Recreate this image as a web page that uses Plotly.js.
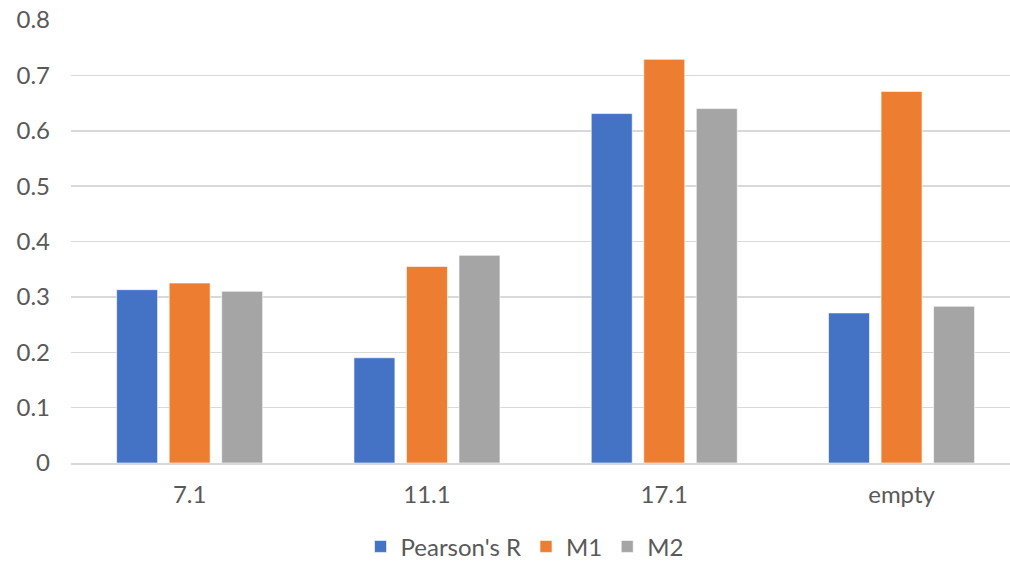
<!DOCTYPE html>
<html>
<head>
<meta charset="utf-8">
<script src="https://cdn.plot.ly/plotly-3.0.1.min.js"></script>
<style>html,body{margin:0;padding:0;background:#fff;}#chart{width:1010px;height:565px;}</style>
</head>
<body>
<div id="chart"></div>
<script>
const categories = ["7.1", "11.1", "17.1", "empty"];
const seriesNames = ["Pearson's R", "M1", "M2"];
const pearsonR = [0.313, 0.190, 0.631, 0.271];
const m1 = [0.325, 0.355, 0.729, 0.671];
const m2 = [0.310, 0.375, 0.640, 0.283];
const yTicks = [0, 0.1, 0.2, 0.3, 0.4, 0.5, 0.6, 0.7, 0.8];
const yTickText = ["0", "0.1", "0.2", "0.3", "0.4", "0.5", "0.6", "0.7", "0.8"];
const colors = ["#4472C4", "#ED7D31", "#A5A5A5"];

const values = [pearsonR, m1, m2];
const traces = values.map((v, i) => ({
  type: 'bar',
  name: seriesNames[i],
  x: categories,
  y: v,
  marker: {color: colors[i], line: {color: 'rgba(255,255,255,0.6)', width: 1}},
  hoverinfo: 'none'
}));

const font = {family: 'Lato, "Open Sans", sans-serif', size: 24, color: '#595959'};
const layout = {
  width: 1010, height: 565,
  margin: {l: 71, r: 0, t: 20, b: 102, autoexpand: false},
  paper_bgcolor: '#fff', plot_bgcolor: '#fff',
  font: font,
  barmode: 'group',
  bargap: 0.336,
  bargroupgap: 0.22,
  showlegend: true,
  legend: {orientation: 'h', x: 0.483, xanchor: 'center', y: -0.24, yanchor: 'bottom', font: font, traceorder: 'normal', bgcolor: 'rgba(0,0,0,0)'},
  xaxis: {type: 'category', range: [-0.5, 3.457], showgrid: false, zeroline: false, showline: true, linecolor: '#D9D9D9', linewidth: 1.5, ticks: '', tickfont: font, ticklabelstandoff: 10, automargin: false},
  yaxis: {range: [0, 0.8], tickvals: yTicks, ticktext: yTickText, showgrid: true, gridcolor: '#D9D9D9', gridwidth: 1.5, zeroline: false, showline: false, ticks: '', tickfont: font, ticklabelstandoff: 20, automargin: false}
};
Plotly.newPlot('chart', traces, layout, {displayModeBar: false, staticPlot: true});
</script>
</body>
</html>
